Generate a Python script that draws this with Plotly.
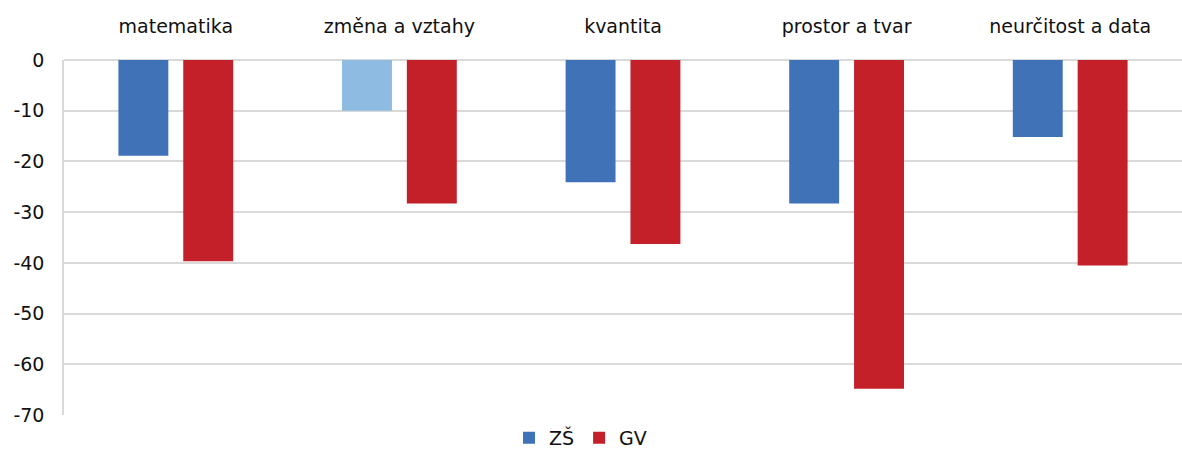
import plotly.graph_objects as go

categories = ["matematika", "změna a vztahy", "kvantita", "prostor a tvar", "neurčitost a data"]
zs_values = [-18.9, -10.0, -24.1, -28.3, -15.2]
gv_values = [-39.7, -28.3, -36.3, -64.8, -40.5]
zs_colors = ["#4072b8", "#8dbbe2", "#4072b8", "#4072b8", "#4072b8"]
gv_color = "#c32029"
y_ticks = [0, -10, -20, -30, -40, -50, -60, -70]

FONT = "DejaVu Sans, sans-serif"

fig = go.Figure()
fig.add_trace(go.Bar(x=categories, y=zs_values, name="ZŠ",
                     marker=dict(color=zs_colors, line=dict(width=0))))
fig.add_trace(go.Bar(x=categories, y=gv_values, name="GV",
                     marker=dict(color=gv_color, line=dict(width=0))))

fig.update_layout(
    width=1182, height=449,
    margin=dict(l=64, r=0, t=60, b=34, autoexpand=False),
    paper_bgcolor="white", plot_bgcolor="white",
    barmode="group", bargap=0.42, bargroupgap=0.23,
    font=dict(family=FONT, size=19, color="#111111"),
    showlegend=True,
    legend=dict(orientation="h", x=0.462, xanchor="center",
                yref="container", y=0.025, yanchor="middle",
                font=dict(size=19), itemwidth=30, traceorder="normal"),
    xaxis=dict(side="top", showgrid=False, showline=False, ticks="", automargin=False,
               ticklabelstandoff=22,
               tickfont=dict(size=19), categoryorder="array", categoryarray=categories),
    yaxis=dict(range=[-70, 0], tickvals=y_ticks, ticktext=[str(v) for v in y_ticks],
               showgrid=True, gridcolor="#d9d9d9", gridwidth=1.5, automargin=False,
               zeroline=True, zerolinecolor="#d9d9d9", zerolinewidth=1.5,
               showline=True, linecolor="#d9d9d9", linewidth=1.5,
               ticks="outside", ticklen=14, tickcolor="rgba(0,0,0,0)",
               tickfont=dict(size=19)),
)

fig.write_html("out.html", config={"displayModeBar": False},
               post_script="document.body.style.margin='0';")
